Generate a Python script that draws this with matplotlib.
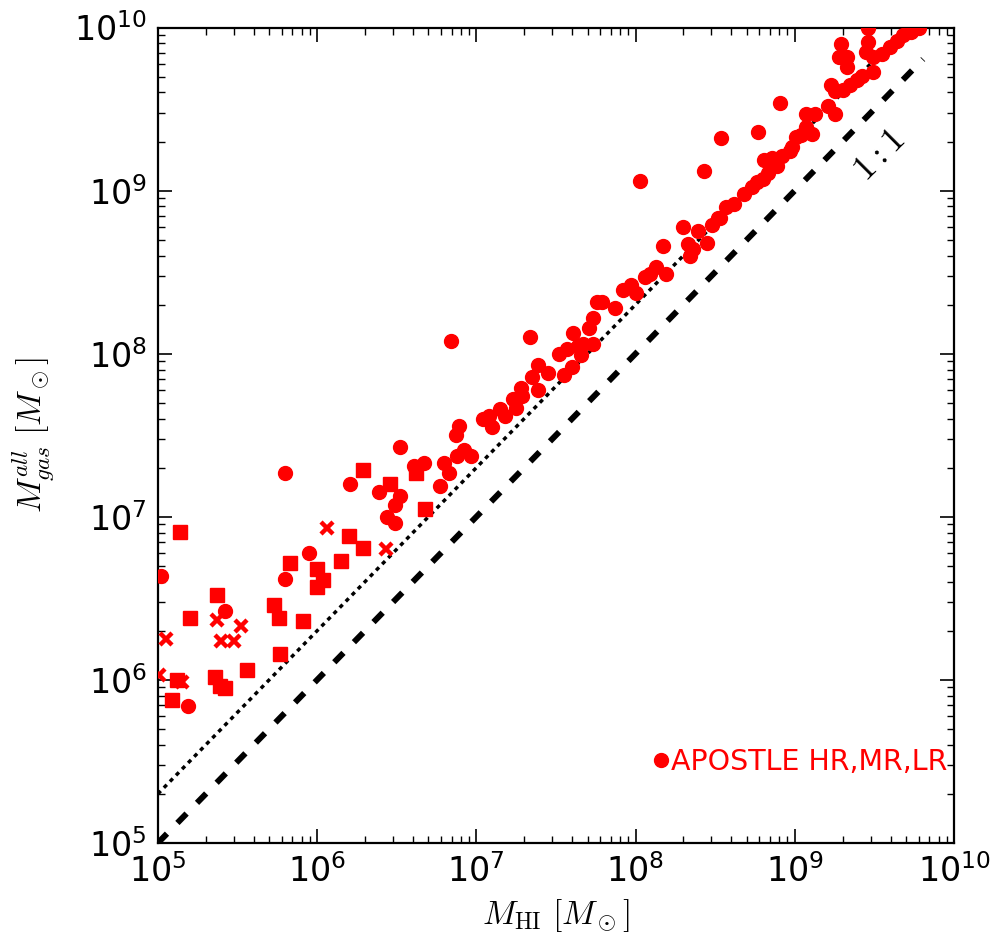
import numpy as np
import matplotlib
matplotlib.use('Agg')
import matplotlib.pyplot as plt

# log10 masses
circ_lx = [5.02, 5.42, 5.80, 5.95, 5.19, 5.80, 6.52, 6.21, 6.39, 6.52, 6.49, 6.44, 6.49,
           6.61, 6.67, 6.80, 6.83, 6.77, 6.88, 6.92, 6.97, 6.89, 6.87, 7.04, 7.08, 7.10,
           6.84, 7.23, 7.18, 7.34, 7.76, 7.87, 7.73, 7.71, 7.61, 7.57, 7.52, 7.64, 7.67,
           7.73, 7.66, 7.60, 7.55, 7.39, 7.45, 7.35, 7.39, 7.29, 7.25, 7.92, 7.97, 8.00,
           8.06, 8.09, 8.03, 8.54, 8.77, 8.43, 8.30, 8.17, 8.13, 8.19, 7.79, 8.34, 8.33,
           8.39, 8.45, 8.48, 8.53, 8.57, 8.62, 8.68, 8.73, 8.76, 8.81, 8.83, 8.89, 8.92,
           8.97, 9.01, 8.91, 9.29, 9.28, 9.33, 9.33, 9.46, 9.46, 9.45, 9.49, 9.49, 9.55,
           9.60, 9.64, 9.68, 9.73, 9.78, 9.23, 9.25, 9.30, 9.35, 9.39, 9.42, 9.21, 9.25,
           9.07, 9.13, 9.07, 9.11, 9.04, 8.98, 8.86, 8.80, 8.52, 8.36, 7.15, 7.28]
circ_ly = [6.64, 6.42, 6.62, 6.78, 5.84, 7.27, 7.43, 7.20, 7.15, 7.13, 7.07, 7.00, 6.96,
           7.31, 7.33, 7.33, 7.27, 7.19, 7.37, 7.41, 7.37, 7.56, 7.50, 7.60, 7.62, 7.55,
           8.08, 7.72, 7.62, 8.10, 8.32, 8.28, 8.22, 8.16, 8.13, 8.03, 8.00, 8.05, 8.06,
           8.06, 7.99, 7.92, 7.87, 7.93, 7.88, 7.86, 7.78, 7.74, 7.67, 8.39, 8.42, 8.37,
           8.47, 8.49, 9.06, 9.32, 9.36, 9.12, 8.78, 8.66, 8.53, 8.49, 8.32, 8.60, 8.67,
           8.75, 8.68, 8.79, 8.83, 8.90, 8.92, 8.98, 9.02, 9.05, 9.19, 9.11, 9.15, 9.21,
           9.24, 9.33, 9.54, 9.90, 9.82, 9.82, 9.76, 10.00, 9.91, 9.85, 9.82, 9.73, 9.84,
           9.88, 9.92, 9.955, 9.975, 10.00, 9.65, 9.61, 9.62, 9.65, 9.68, 9.70, 9.52, 9.47,
           9.47, 9.47, 9.39, 9.35, 9.34, 9.27, 9.20, 9.07, 8.83, 8.64, 7.66, 7.79]

sq_lx = [5.14, 5.37, 5.20, 5.73, 5.76, 5.91, 5.77, 5.56, 5.09, 5.12, 5.36, 5.39, 5.42,
         5.83, 6.00, 6.00, 6.04, 6.15, 6.20, 6.29, 6.29, 6.46, 6.62, 6.68]
sq_ly = [6.91, 6.52, 6.38, 6.46, 6.38, 6.36, 6.16, 6.06, 5.88, 6.00, 6.02, 5.96, 5.95,
         6.72, 6.68, 6.57, 6.61, 6.73, 6.88, 6.81, 7.29, 7.20, 7.27, 7.05]

x_lx = [6.06, 5.05, 5.37, 5.40, 5.48, 5.52, 5.01, 5.15, 6.43]
x_ly = [6.93, 6.25, 6.37, 6.24, 6.24, 6.33, 6.03, 5.99, 6.80]

line_x = np.array([1e5, 1e10])
one_x = np.array([1e5, 6.4e9])

red = '#ff0000'

fig = plt.figure(figsize=(9.9, 9.43), dpi=100)
ax = fig.add_axes([0.1594, 0.106, 0.8042, 0.8648])

ax.plot(line_x, 2 * line_x, color='k', ls=(0, (1.2, 1.3)), lw=2.5, zorder=1)
ax.plot(one_x, one_x, color='k', ls=(0, (2.2, 2.5)), lw=4.3, zorder=1)

ax.plot(10 ** np.array(sq_lx), 10 ** np.array(sq_ly), 's', color=red, ms=9.5, mec=red, zorder=3)
ax.plot(10 ** np.array(circ_lx), 10 ** np.array(circ_ly), 'o', color=red, ms=10, mec=red,
        zorder=3, label='APOSTLE HR,MR,LR')
ax.plot(10 ** np.array(x_lx), 10 ** np.array(x_ly), 'x', color=red, ms=8, mew=3.2, zorder=4)

ax.set_xscale('log')
ax.set_yscale('log')
ax.set_xlim(1e5, 1e10)
ax.set_ylim(1e5, 1e10)

ax.text(10 ** 9.53, 10 ** 9.22, r'$1:1$', fontsize=26, rotation=45, ha='center', va='center',
        math_fontfamily='cm')

ax.set_xlabel(r'$M_{\rm HI}\ [M_\odot]$', fontsize=24, math_fontfamily='cm', labelpad=6)
ax.set_ylabel(r'$M_{gas}^{all}\ [M_\odot]$', fontsize=24, math_fontfamily='cm', labelpad=13)

ax.tick_params(which='both', direction='in', top=True, right=True, labelsize=24)
ax.tick_params(which='major', length=10, width=1.2, pad=8)
ax.tick_params(which='minor', length=5, width=1)
for s in ax.spines.values():
    s.set_linewidth(1.6)

leg = ax.legend(loc='center right', bbox_to_anchor=(0.992, 0.099), frameon=False,
                numpoints=1, handlelength=0.5, handletextpad=0.1, borderpad=0,
                borderaxespad=0, fontsize=20.5)
for t in leg.get_texts():
    t.set_color(red)

fig.savefig('out.png', dpi=100)
